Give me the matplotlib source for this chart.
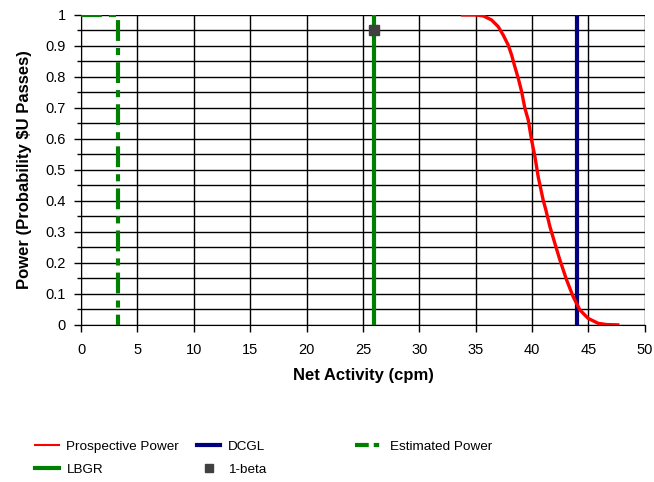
import numpy as np
import matplotlib.pyplot as plt
from matplotlib.lines import Line2D

plt.rcParams["font.family"] = ["Liberation Sans", "DejaVu Sans"]

# Prospective power curve
power_x = [33.84, 35.0, 35.66, 36.4, 37.0, 37.44, 37.88, 38.18, 38.47, 38.77, 39.07,
           39.36, 39.66, 39.95, 40.25, 40.54, 40.98, 41.22, 41.58, 42.02, 42.46,
           43.06, 43.64, 44.24, 44.97, 45.86, 46.6, 47.6]
power_y = [1.0, 1.0, 0.997, 0.984, 0.962, 0.935, 0.903, 0.871, 0.833, 0.796, 0.753,
           0.699, 0.661, 0.597, 0.543, 0.478, 0.403, 0.371, 0.317, 0.263, 0.210,
           0.145, 0.091, 0.048, 0.021, 0.005, 0.001, 0.0]

dcgl = 44.0
lbgr = 26.0
one_minus_beta = 0.95
est_power_x = 3.3

fig = plt.figure(figsize=(6.54, 4.82), dpi=100)
ax = fig.add_axes([0.124, 0.326, 0.862, 0.643])

ax.plot(power_x, power_y, color="red", lw=2.4, zorder=5, solid_joinstyle="round")
ax.plot([dcgl, dcgl], [0, 1], color="#000080", lw=3, zorder=4)
ax.plot([0, est_power_x, est_power_x], [1, 1, 0], color="#008000", lw=3,
        dashes=(5, 1.7, 1.7, 1.7), zorder=4)
ax.plot([lbgr, lbgr], [0, 1], color="#008000", lw=3, zorder=4)
ax.plot([lbgr], [one_minus_beta], "s", color="#404040", ms=7, zorder=6)

ax.set_xlim(0, 50)
ax.set_ylim(0, 1)
ax.set_xticks(np.arange(0, 51, 5))
ax.set_yticks(np.arange(0, 1.01, 0.1))
ax.set_yticks(np.arange(0.05, 1.0, 0.1), minor=True)
ax.set_yticklabels(["0", "0.1", "0.2", "0.3", "0.4", "0.5", "0.6", "0.7", "0.8", "0.9", "1"])
ax.grid(True, which="both", color="black", lw=1)
ax.tick_params(which="major", length=5, width=1, color="black", labelsize=10.5)
ax.tick_params(which="minor", length=3, width=1, color="black")
ax.tick_params(axis="y", pad=6)
ax.tick_params(axis="x", pad=8)
for side in ["top", "right"]:
    ax.spines[side].set_visible(False)
for side in ["left", "bottom"]:
    ax.spines[side].set_color("black")

ax.set_xlabel("Net Activity (cpm)", fontsize=12, fontweight="bold", labelpad=8)
ax.set_ylabel("Power (Probability $U Passes)", fontsize=12, fontweight="bold", labelpad=10)

# legend: first two columns, then "Estimated Power" set apart on the right
handles = [
    Line2D([], [], color="red", lw=1.5),
    Line2D([], [], color="#008000", lw=3),
    Line2D([], [], color="#000080", lw=3),
    Line2D([], [], ls="none", marker="s", color="#404040", ms=6),
]
labels = ["Prospective Power", "LBGR", "DCGL", "1-beta"]
leg_kw = dict(loc="upper left", frameon=False, fontsize=9.7,
              labelspacing=0.75, handletextpad=0.55, borderaxespad=0)
fig.legend(handles, labels, bbox_to_anchor=(0.046, 0.097), ncol=2,
           columnspacing=1.3, handlelength=1.75, **leg_kw)
fig.legend([Line2D([], [], color="#008000", lw=3, dashes=(3.3, 1.2, 1.3, 6))],
           ["Estimated Power"], bbox_to_anchor=(0.535, 0.097),
           handlelength=2.0, **leg_kw)

fig.savefig("out.png", dpi=100)
